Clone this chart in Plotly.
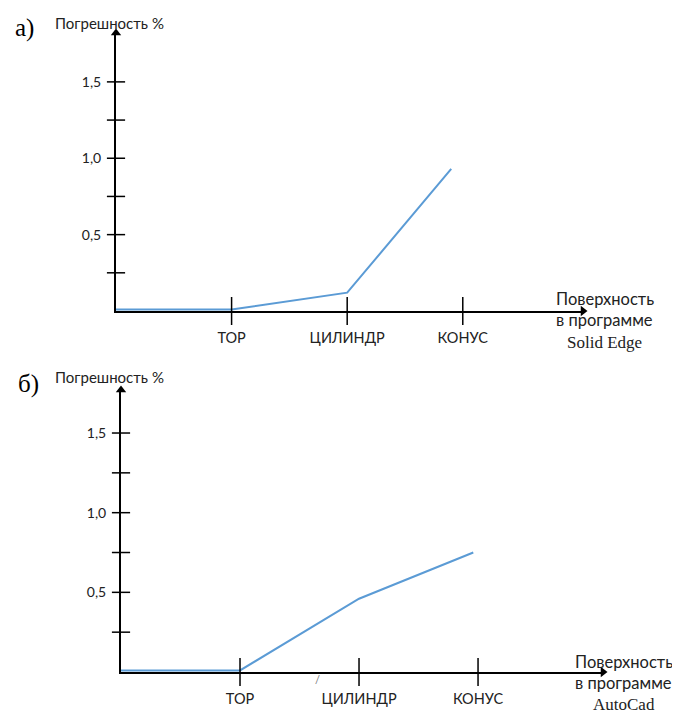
import plotly.graph_objects as go

# ---- data ----
categories = ["ТОР", "ЦИЛИНДР", "КОНУС"]
cat_pos = [1, 2, 3]
y_tick_vals = [0.25, 0.5, 0.75, 1.0, 1.25, 1.5]
y_tick_text = ["", "0,5", "", "1,0", "", "1,5"]

# panel a) Solid Edge
x_a = [0, 1, 2, 2.9]
err_a = [0.01, 0.01, 0.12, 0.93]
# panel b) AutoCad
x_b = [0, 1, 2, 2.96]
err_b = [0.01, 0.01, 0.46, 0.75]

# page has an 8px body margin; figure sized to fit the window
OFF = 8
W, H = 680 - OFF, 713 - OFF
def px(x): return (x - OFF) / W
def py(y): return 1 - (y - OFF) / H

BLUE = "#5B9BD5"
SANS = "Lato"
SERIF = "Liberation Serif"
TXT = "#222"

fig = go.Figure()

panels = [
    # (xaxis, yaxis, data x, data y, x0px, x1px, y0px(zero), y1px(top), xmax, ymax)
    ("x", "y", x_a, err_a, 116, 583, 311, 33, 4.04, 1.82),
    ("x2", "y2", x_b, err_b, 121, 603, 672, 390, 4.05, 1.77),
]

for i, (xa, ya, xs, ys, x0, x1, y0, y1, xmax, ymax) in enumerate(panels):
    fig.add_trace(go.Scatter(x=xs, y=ys, mode="lines", xaxis=xa, yaxis=ya,
                             line=dict(color=BLUE, width=2), showlegend=False,
                             cliponaxis=False))
    fig.add_trace(go.Scatter(x=[0] * len(y_tick_vals), y=y_tick_vals, mode="markers",
                             xaxis=xa, yaxis=ya, showlegend=False, cliponaxis=False,
                             marker=dict(symbol="line-ew", size=13,
                                         line=dict(color="black", width=1.5))))
    fig.add_trace(go.Scatter(x=cat_pos, y=[0] * len(cat_pos), mode="markers",
                             xaxis=xa, yaxis=ya, showlegend=False, cliponaxis=False,
                             marker=dict(symbol="line-ns", size=20,
                                         line=dict(color="black", width=1.5))))
    fig.add_trace(go.Scatter(x=[0], y=[ymax], mode="markers", xaxis=xa, yaxis=ya,
                             showlegend=False, cliponaxis=False,
                             marker=dict(symbol="triangle-up", size=9, color="black")))
    fig.add_trace(go.Scatter(x=[xmax], y=[0], mode="markers", xaxis=xa, yaxis=ya,
                             showlegend=False, cliponaxis=False,
                             marker=dict(symbol="triangle-right", size=9, color="black")))

    suffix = "" if i == 0 else "2"
    fig.layout["xaxis" + suffix] = dict(
        domain=[px(x0), px(x1)], range=[0, xmax], anchor="y" + suffix,
        showline=True, linecolor="black", linewidth=2, showgrid=False, zeroline=False,
        tickvals=cat_pos, ticktext=categories, ticks="", ticklabelstandoff=13,
        tickfont=dict(family=SANS, size=14.5, color=TXT), fixedrange=True)
    fig.layout["yaxis" + suffix] = dict(
        domain=[py(y0), py(y1)], range=[0, ymax], anchor="x" + suffix,
        showline=True, linecolor="black", linewidth=2, showgrid=False, zeroline=False,
        tickvals=y_tick_vals, ticktext=y_tick_text, ticks="", ticklabelstandoff=10,
        tickfont=dict(family=SANS, size=14, color=TXT), fixedrange=True)

ann = []
ann.append(dict(text="а)", x=px(13), y=py(28), xanchor="left", yanchor="middle",
                font=dict(family=SERIF, size=25, color="black")))
ann.append(dict(text="б)", x=px(16), y=py(384), xanchor="left", yanchor="middle",
                font=dict(family=SERIF, size=25, color="black")))
ann.append(dict(text="Погрешность %", x=px(53), y=py(23), xanchor="left", yanchor="middle",
                font=dict(family=SANS, size=15, color=TXT)))
ann.append(dict(text="Погрешность %", x=px(53), y=py(377), xanchor="left", yanchor="middle",
                font=dict(family=SANS, size=15, color=TXT)))
ann.append(dict(text="Поверхность<br>в программе", x=px(554), y=py(310), xanchor="left",
                yanchor="middle", align="left",
                font=dict(family=SANS, size=16.5, color=TXT)))
ann.append(dict(text="Solid Edge", x=px(604), y=py(342), xanchor="center", yanchor="middle",
                font=dict(family=SERIF, size=17, color=TXT)))
ann.append(dict(text="Поверхность<br>в программе", x=px(573), y=py(672), xanchor="left",
                yanchor="middle", align="left",
                font=dict(family=SANS, size=16.5, color=TXT)))
ann.append(dict(text="AutoCad", x=px(624), y=py(704), xanchor="center", yanchor="middle",
                font=dict(family=SERIF, size=17, color=TXT)))
ann.append(dict(text="/", x=px(317), y=py(679), xanchor="center", yanchor="middle",
                font=dict(family=SANS, size=11, color="#777")))

for a in ann:
    a.update(xref="paper", yref="paper", showarrow=False)

fig.update_layout(width=W, height=H, margin=dict(l=0, r=0, t=0, b=0),
                  paper_bgcolor="white", plot_bgcolor="white",
                  annotations=ann, showlegend=False)

fig.write_html("out.html")
